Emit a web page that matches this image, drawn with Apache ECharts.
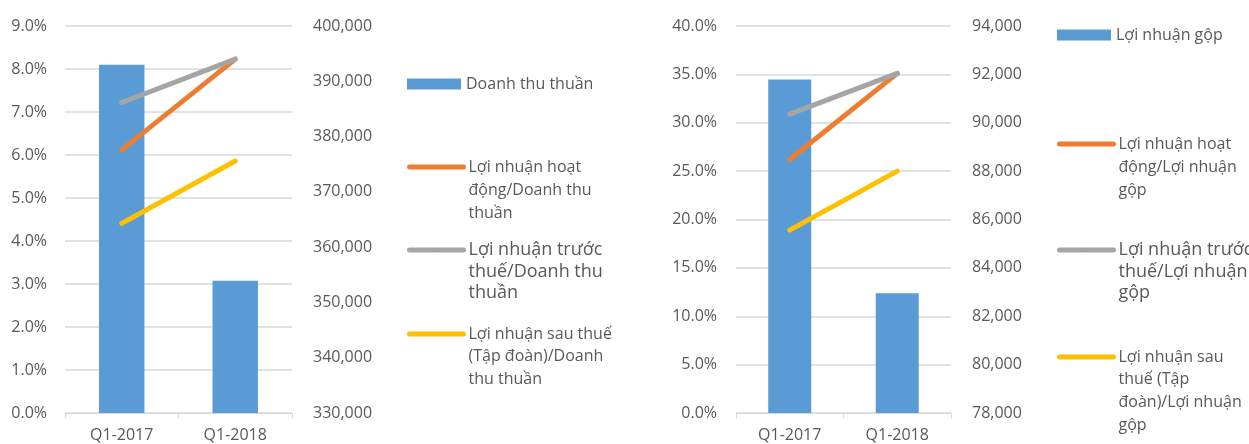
<!DOCTYPE html>
<html>
<head>
<meta charset="utf-8">
<script src="https://cdn.jsdelivr.net/npm/echarts@6/dist/echarts.min.js"></script>
<style>
  html, body { margin: 0; padding: 0; background: #fff; }
  #chart { width: 1249px; height: 444px; }
</style>
</head>
<body>
<div id="chart"></div>
<script>
// Categories shared by both panels
const categories = ['Q1-2017', 'Q1-2018'];

// Left panel: revenue (bars, right axis) and margins on revenue (%, left axis)
const revenue = [393000, 353900];
const opMarginRevenue = [6.12, 8.23];
const pretaxMarginRevenue = [7.22, 8.23];
const netMarginRevenue = [4.41, 5.86];

// Right panel: gross profit (bars, right axis) and margins on gross profit (%)
const grossProfit = [91790, 82950];
const opMarginGross = [26.2, 35.1];
const pretaxMarginGross = [30.9, 35.1];
const netMarginGross = [18.9, 25.0];

// Axis ranges [min, max, interval]
const leftPctAxis = [0, 9, 1];
const leftValAxis = [330000, 400000, 10000];
const rightPctAxis = [0, 40, 5];
const rightValAxis = [78000, 94000, 2000];

// Series names and wrapped legend labels
const leftNames = [
    'Doanh thu thuần',
    'Lợi nhuận hoạt động/Doanh thu thuần',
    'Lợi nhuận trước thuế/Doanh thu thuần',
    'Lợi nhuận sau thuế (Tập đoàn)/Doanh thu thuần'
];
const leftLabels = [
    'Doanh thu thuần',
    'Lợi nhuận hoạt\nđộng/Doanh thu\nthuần',
    'Lợi nhuận trước\nthuế/Doanh thu\nthuần',
    'Lợi nhuận sau thuế\n(Tập đoàn)/Doanh\nthu thuần'
];
const rightNames = [
    'Lợi nhuận gộp',
    'Lợi nhuận hoạt động/Lợi nhuận gộp',
    'Lợi nhuận trước thuế/Lợi nhuận gộp',
    'Lợi nhuận sau thuế (Tập đoàn)/Lợi nhuận gộp'
];
const rightLabels = [
    'Lợi nhuận gộp',
    'Lợi nhuận hoạt\nđộng/Lợi nhuận\ngộp',
    'Lợi nhuận trước\nthuế/Lợi nhuận\ngộp',
    'Lợi nhuận sau\nthuế (Tập\nđoàn)/Lợi nhuận\ngộp'
];

const COLORS = ['#5B9BD5', '#ED7D31', '#A5A5A5', '#FFC000'];
const TEXT = '#595959';
const GRID_LINE = '#D9D9D9';
const FONT = '"Open Sans", sans-serif';

function pctLabel(v) { return v.toFixed(1) + '%'; }
function numLabel(v) { return v.toLocaleString('en-US'); }

// Builds a category x axis
function buildXAxis(gridIndex) {
    return {
        type: 'category',
        gridIndex: gridIndex,
        data: categories,
        axisLine: { lineStyle: { color: GRID_LINE, width: 1 } },
        axisTick: { show: true, length: 5, lineStyle: { color: GRID_LINE } },
        axisLabel: { color: TEXT, fontSize: 16, fontFamily: FONT, margin: 14 }
    };
}

// Builds a value y axis
function buildYAxis(gridIndex, range, position, formatter, margin, showSplit) {
    return {
        type: 'value',
        gridIndex: gridIndex,
        position: position,
        min: range[0],
        max: range[1],
        interval: range[2],
        axisLine: { show: false },
        axisTick: { show: false },
        splitLine: { show: showSplit, lineStyle: { color: GRID_LINE, width: 1.5 } },
        axisLabel: { color: TEXT, fontSize: 16, fontFamily: FONT, margin: margin, formatter: formatter }
    };
}

function buildBar(name, data, xi, yi) {
    return {
        name: name, type: 'bar', xAxisIndex: xi, yAxisIndex: yi, data: data,
        barWidth: '40%', itemStyle: { color: COLORS[0] }
    };
}

function buildLine(name, data, xi, yi, color) {
    return {
        name: name, type: 'line', xAxisIndex: xi, yAxisIndex: yi, data: data,
        symbol: 'none', z: 3,
        lineStyle: { color: color, width: 5, cap: 'round' },
        itemStyle: { color: color }
    };
}

// One legend per item so each can sit at its own spot.
// The marker is centred on the text block, so blank lines are put in front
// to bring it level with the first line (like Excel does).
function buildLegendItem(name, label, left, symY, isBar, fontSize, lineHeight) {
    const lines = label.split('\n');
    const n = lines.length;
    const padded = new Array(n - 1).fill(' ').concat(lines).join('\n');
    return {
        data: [{ name: name, icon: isBar ? 'rect' : undefined }],
        formatter: () => padded,
        left: left,
        top: symY - (2 * n - 1) * lineHeight / 2,
        padding: 0,
        itemWidth: 54,
        itemHeight: isBar ? 11 : 5,
        selectedMode: false,
        lineStyle: { width: 5, cap: 'round' },
        textStyle: {
            color: TEXT, fontFamily: FONT, fontSize: fontSize, lineHeight: lineHeight
        }
    };
}

const leftSymY = [84, 167, 250, 334];
const rightSymY = [35, 144, 250, 357];
const legendFont = [16, 16, 18, 16];
const legendLH = [23, 23, 21.5, 22.7];

const legends = [];
leftNames.forEach((n, i) => {
    legends.push(buildLegendItem(n, leftLabels[i], 407, leftSymY[i], i === 0, legendFont[i], legendLH[i]));
});
rightNames.forEach((n, i) => {
    legends.push(buildLegendItem(n, rightLabels[i], 1057, rightSymY[i], i === 0, legendFont[i], legendLH[i]));
});

const chart = echarts.init(document.getElementById('chart'));

chart.setOption({
    animation: false,
    textStyle: { fontFamily: FONT },
    legend: legends,
    grid: [
        { left: 65, right: 1249 - 292, top: 26, bottom: 31 },
        { left: 736, right: 1249 - 951, top: 26, bottom: 31 }
    ],
    xAxis: [buildXAxis(0), buildXAxis(1)],
    yAxis: [
        buildYAxis(0, leftPctAxis, 'left', pctLabel, 18, true),
        buildYAxis(0, leftValAxis, 'right', numLabel, 21, false),
        buildYAxis(1, rightPctAxis, 'left', pctLabel, 19, true),
        buildYAxis(1, rightValAxis, 'right', numLabel, 21, false)
    ],
    series: [
        buildBar(leftNames[0], revenue, 0, 1),
        buildLine(leftNames[1], opMarginRevenue, 0, 0, COLORS[1]),
        buildLine(leftNames[2], pretaxMarginRevenue, 0, 0, COLORS[2]),
        buildLine(leftNames[3], netMarginRevenue, 0, 0, COLORS[3]),
        buildBar(rightNames[0], grossProfit, 1, 3),
        buildLine(rightNames[1], opMarginGross, 1, 2, COLORS[1]),
        buildLine(rightNames[2], pretaxMarginGross, 1, 2, COLORS[2]),
        buildLine(rightNames[3], netMarginGross, 1, 2, COLORS[3])
    ]
});
</script>
</body>
</html>
